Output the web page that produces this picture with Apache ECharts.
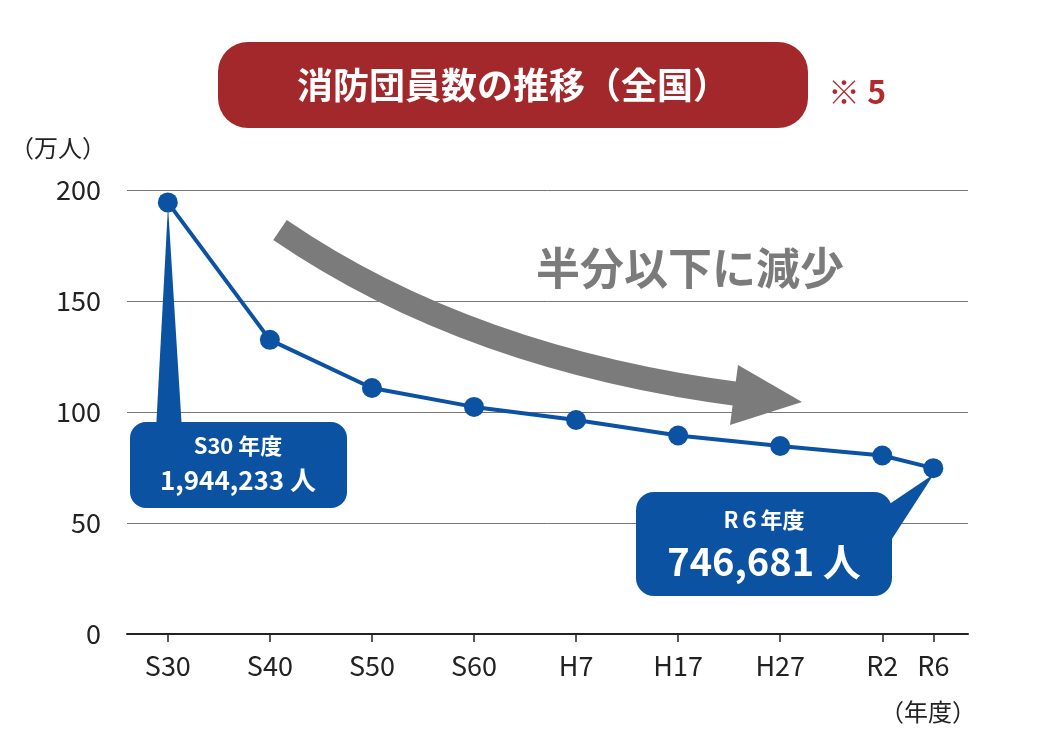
<!DOCTYPE html>
<html><head><meta charset="utf-8">
<script src="https://cdn.jsdelivr.net/npm/echarts@6/dist/echarts.min.js"></script>
<style>html,body{margin:0;background:#fff}#c{width:1044px;height:748px}</style></head>
<body><div id="c"></div>
<script>
const categories = ['S30','S40','S50','S60','H7','H17','H27','R2','R6'];
const positions = [0,1,2,3,4,5,6,7,7.5];
const values = [194.4,132.5,110.8,102.3,96.4,89.4,84.7,80.4,74.7];
const yTicks = [0,50,100,150,200];
const F = '"Noto Sans CJK JP","Noto Sans",sans-serif';
const BLUE = '#0b52a3';
const chart = echarts.init(document.getElementById('c'));
chart.setOption({
  animation:false,
  grid:{left:127,right:76,top:190,bottom:114},
  xAxis:{type:'value',min:-0.4,max:7.84,
    axisLine:{show:true,lineStyle:{color:'#222',width:2}},
    splitLine:{show:false},
    axisTick:{show:true,customValues:positions,length:8,lineStyle:{color:'#222',width:1.5}},
    axisLabel:{customValues:positions,margin:18,color:'#222',fontSize:27,fontFamily:F,
      formatter:v=>{const i=positions.indexOf(v);return i<0?'':categories[i];}}},
  yAxis:{type:'value',min:0,max:200,interval:50,
    axisLine:{show:false},axisTick:{show:false},
    splitLine:{lineStyle:{color:'#777',width:1}},
    axisLabel:{color:'#222',fontSize:27,fontFamily:F,margin:26}},
  series:[{type:'line',data:positions.map((p,i)=>[p,values[i]]),
    symbol:'circle',symbolSize:20,lineStyle:{color:BLUE,width:4},itemStyle:{color:BLUE},z:5}],
  graphic:[
    {type:'rect',shape:{x:218,y:42,width:590,height:86,r:30},style:{fill:'#a3282b'}},
    {type:'text',x:513,y:85,style:{text:'消防団員数の推移（全国）',fill:'#fff',font:'bold 36px '+F,align:'center',verticalAlign:'middle'}},
    {type:'text',x:828,y:92,style:{text:'※ 5',fill:'#b02a2e',font:'bold 32px '+F,verticalAlign:'middle'}},
    {type:'text',x:10,y:148,style:{text:'（万人）',fill:'#222',font:'24px '+F,verticalAlign:'middle'}},
    {type:'text',x:880,y:712,style:{text:'（年度）',fill:'#222',font:'24px '+F,verticalAlign:'middle'}},
    {type:'bezierCurve',shape:{x1:280,y1:230,x2:745,y2:395,cpx1:470,cpy1:360},style:{fill:null,stroke:'#7b7b7b',lineWidth:24},z:2},
    {type:'polygon',shape:{points:[[738,365],[802,402],[730,425]]},style:{fill:'#7b7b7b'},z:2},
    {type:'text',x:690,y:268,style:{text:'半分以下に減少',fill:'#7b7b7b',font:'bold 44px '+F,align:'center',verticalAlign:'middle'},z:3},
    {type:'polygon',shape:{points:[[156,430],[182,430],[168,206]]},style:{fill:BLUE},z:6},
    {type:'rect',shape:{x:130,y:422,width:217,height:86,r:16},style:{fill:BLUE},z:6},
    {type:'text',x:238,y:446,style:{text:'S30 年度',fill:'#fff',font:'bold 22px '+F,align:'center',verticalAlign:'middle'},z:7},
    {type:'text',x:238,y:480,style:{text:'1,944,233 人',fill:'#fff',font:'bold 26px '+F,align:'center',verticalAlign:'middle'},z:7},
    {type:'polygon',shape:{points:[[888,505],[888,545],[934,474]]},style:{fill:BLUE},z:6},
    {type:'rect',shape:{x:636,y:492,width:256,height:104,r:18},style:{fill:BLUE},z:6},
    {type:'text',x:764,y:520,style:{text:'R６年度',fill:'#fff',font:'bold 22px '+F,align:'center',verticalAlign:'middle'},z:7},
    {type:'text',x:764,y:562,style:{text:'746,681 人',fill:'#fff',font:'bold 38px '+F,align:'center',verticalAlign:'middle'},z:7}
  ]
});
</script></body></html>
